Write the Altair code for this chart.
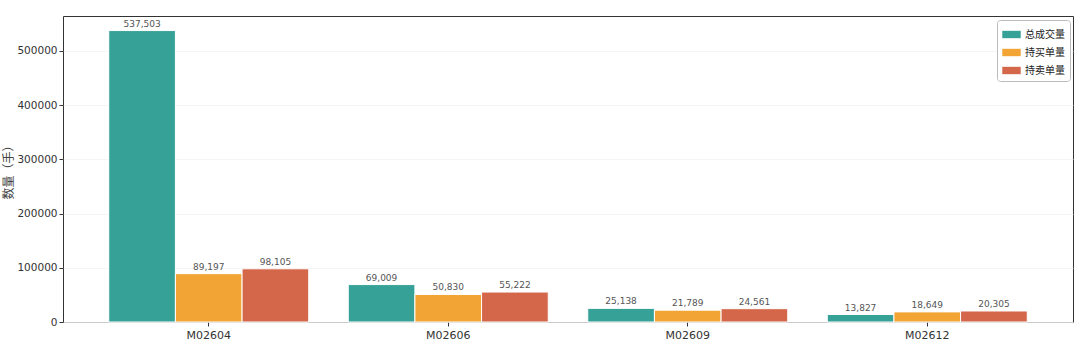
import altair as alt
import pandas as pd

contracts = ["M02604", "M02606", "M02609", "M02612"]
series = ["总成交量", "持买单量", "持卖单量"]
total_volume = [537503, 69009, 25138, 13827]
long_oi = [89197, 50830, 21789, 18649]
short_oi = [98105, 55222, 24561, 20305]
colors = ["#36a197", "#f2a535", "#d4664a"]

rows = []
for i, c in enumerate(contracts):
    for s, vals in zip(series, [total_volume, long_oi, short_oi]):
        rows.append({"合约": c, "类型": s, "数量": vals[i]})
df = pd.DataFrame(rows)

FONT = "DejaVu Sans, Noto Sans CJK SC"
ymax = max(total_volume) * 1.05

x = alt.X("合约:N", sort=contracts, title=None,
          scale=alt.Scale(paddingInner=0.165, paddingOuter=0.191),
          axis=alt.Axis(labelAngle=0, labelFontSize=11, labelColor="#333",
                        tickColor="#333", tickSize=4, domain=False, labelPadding=3))
y = alt.Y("数量:Q", title="数量（手）",
          scale=alt.Scale(domain=[0, ymax], nice=False, zero=True),
          axis=alt.Axis(values=[0, 100000, 200000, 300000, 400000, 500000],
                        format="d", labelFontSize=10.5, labelColor="#333",
                        tickColor="#333", tickSize=4, domain=False,
                        grid=True, gridColor="#f3f3f3", gridWidth=0.8,
                        titleFontSize=12, titleColor="#444", titleFontWeight="normal",
                        titleFont="Noto Sans CJK SC",
                        titleX=-55, titleY=153, titleAngle=270,
                        titleAlign="center", titleBaseline="middle"))

base = alt.Chart(df).encode(
    x=x,
    xOffset=alt.XOffset("类型:N", sort=series),
)

bars = base.mark_bar(stroke="white", strokeWidth=1).encode(
    y=y,
    color=alt.Color("类型:N", sort=series,
                    scale=alt.Scale(domain=series, range=colors),
                    legend=alt.Legend(title=None, orient="none", legendX=934, legendY=4,
                                      fillColor="white", strokeColor="#bbbbbb",
                                      cornerRadius=3, padding=5,
                                      labelFont="Noto Sans CJK SC", labelFontSize=10,
                                      labelColor="#222",
                                      symbolType="M-1,-0.4L1,-0.4L1,0.4L-1,0.4Z",
                                      symbolSize=340, symbolStrokeWidth=0,
                                      rowPadding=3)),
)

labels = base.mark_text(dy=-2, fontSize=9, color="#555", font=FONT, baseline="bottom").encode(
    y=alt.Y("数量:Q"),
    text=alt.Text("数量:Q", format=","),
)

chart = (bars + labels).properties(
    width=1010, height=306,
    autosize=alt.AutoSizeParams(type="none"),
    padding={"left": 63, "top": 16, "right": 7, "bottom": 25},
).configure(
    font=FONT,
    view=alt.ViewConfig(stroke="#333333", strokeWidth=1),
)

chart.save("out.html", embed_options={"renderer": "svg", "actions": False})
